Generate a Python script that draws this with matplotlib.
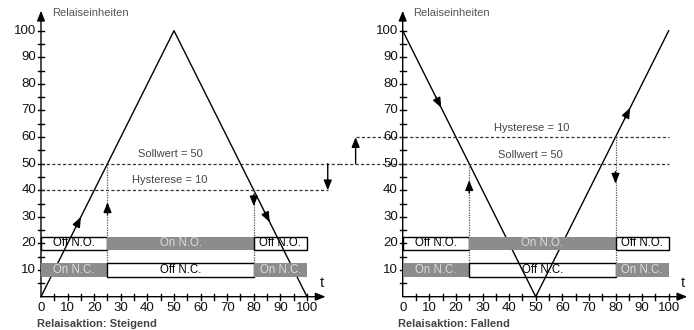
import matplotlib.pyplot as plt
from matplotlib.patches import Rectangle

plt.rcParams['font.family'] = ['Liberation Sans', 'DejaVu Sans']

# signal curves (t, relay units)
rise_t = [0, 50, 100]
rise_y = [0, 100, 0]
fall_t = [0, 50, 100]
fall_y = [100, 0, 100]

setpoint = 50
hysteresis = 10
switch_on = 25
switch_off = 80

# relay state segments: (start, end, state, label)
no_rise = [(0, 25, 'off', 'Off N.O.'), (25, 80, 'on', 'On N.O.'), (80, 100, 'off', 'Off N.O.')]
nc_rise = [(0, 25, 'on', 'On N.C.'), (25, 80, 'off', 'Off N.C.'), (80, 100, 'on', 'On N.C.')]
no_fall = [(0, 25, 'off', 'Off N.O.'), (25, 80, 'on', 'On N.O.'), (80, 100, 'off', 'Off N.O.')]
nc_fall = [(0, 25, 'on', 'On N.C.'), (25, 80, 'off', 'Off N.C.'), (80, 100, 'on', 'On N.C.')]

x_labels = list(range(0, 101, 10))
y_labels = list(range(10, 101, 10))

W, H = 694, 330
S = 2.66  # px per unit
GRAY = '#8c8c8c'
TXT = '#444444'

fig = plt.figure(figsize=(W / 100, H / 100), dpi=100)


def make_ax(x0_px, xmin, xmax):
    y0_px = 296.7  # pixel row of y=0 (from top)
    ymin, ymax = -12.2, 111.5
    left = x0_px + xmin * S
    width = (xmax - xmin) * S
    bottom = H - (y0_px - ymin * S)
    height = (ymax - ymin) * S
    ax = fig.add_axes([left / W, bottom / H, width / W, height / H])
    ax.set_xlim(xmin, xmax)
    ax.set_ylim(ymin, ymax)
    ax.axis('off')
    return ax


def head(ax, tip, back, lw=1.0):
    ax.annotate('', xy=tip, xytext=back,
                arrowprops=dict(arrowstyle='-|>,head_length=0.6,head_width=0.24',
                                color='black', lw=lw, shrinkA=0, shrinkB=0))


def frame(ax):
    # axes with arrows
    head(ax, (0, 107.5), (0, 0))
    head(ax, (107, 0), (0, 0))
    for v in range(5, 105, 5):
        ax.plot([v, v], [-1.1, 1.1], color='black', lw=1.0)
        ax.plot([-1.1, 1.1], [v, v], color='black', lw=1.0)
    for v in x_labels:
        ax.text(v, -4.2, str(v), ha='center', va='center', fontsize=9.5, color='#111111')
    for v in y_labels:
        ax.text(-1.8, v, str(v), ha='right', va='center', fontsize=9.5, color='#111111')
    ax.text(4, 106.5, 'Relaiseinheiten', fontsize=8, color='#555555', va='center')
    ax.text(105.5, 5, 't', fontsize=11, color='#222222', ha='center', va='center')


def bars(ax, segs, yc):
    for a, b, state, label in segs:
        if state == 'on':
            ax.add_patch(Rectangle((a, yc - 2.5), b - a, 5, facecolor=GRAY,
                                   edgecolor='none', zorder=3))
            ax.text((a + b) / 2, yc, label, ha='center', va='center',
                    fontsize=8.3, color='#dddddd', zorder=4)
        else:
            ax.add_patch(Rectangle((a, yc - 2.5), b - a, 5, facecolor='none',
                                   edgecolor='black', lw=1.0, zorder=3))
            ax.text((a + b) / 2, yc, label, ha='center', va='center',
                    fontsize=8.3, color='black', zorder=4)


dash = dict(color='#333333', lw=0.9, linestyle=(0, (2.5, 1.8)))
dot = dict(color='#555555', lw=0.9, linestyle=(0, (1, 1)))

# ---- left: rising ----
axl = make_ax(41, -15.4, 112)
frame(axl)
axl.plot(rise_t, rise_y, color='black', lw=1.0, zorder=2)
head(axl, (15, 30), (13, 26))
head(axl, (86, 28), (84, 32))
axl.plot([0, 112], [setpoint, setpoint], clip_on=False, **dash)
axl.plot([0, 107.8], [setpoint - hysteresis] * 2, **dash)
head(axl, (107.8, setpoint - hysteresis), (107.8, setpoint))
axl.text(48.5, 53.8, 'Sollwert = 50', ha='center', va='center', fontsize=8, color=TXT)
axl.text(48.5, 44, 'Hysterese = 10', ha='center', va='center', fontsize=8, color=TXT)
axl.plot([switch_on] * 2, [12.5, setpoint], **dot)
head(axl, (switch_on, 35.5), (switch_on, 31))
axl.plot([switch_off] * 2, [12.5, setpoint - hysteresis], **dot)
head(axl, (switch_off, 34), (switch_off, 38.5))
bars(axl, no_rise, 20)
bars(axl, nc_rise, 10)
axl.text(-1.6, -10.3, 'Relaisaktion: Steigend', fontsize=8, fontweight='bold',
         color=TXT, va='center')

# ---- right: falling ----
axr = make_ax(402.7, -24, 110)
frame(axr)
axr.plot(fall_t, fall_y, color='black', lw=1.0, zorder=2)
head(axr, (14.5, 71), (12.5, 75))
head(axr, (85.5, 71), (83.5, 67))
axr.plot([-23.9, 100], [setpoint, setpoint], **dash)
axr.plot([-17.7, 100], [setpoint + hysteresis] * 2, **dash)
head(axr, (-17.7, setpoint + hysteresis), (-17.7, setpoint))
axr.text(48.6, 63.5, 'Hysterese = 10', ha='center', va='center', fontsize=8, color=TXT)
axr.text(48, 53.3, 'Sollwert = 50', ha='center', va='center', fontsize=8, color=TXT)
axr.plot([switch_on] * 2, [12.5, setpoint], **dot)
head(axr, (switch_on, 43.8), (switch_on, 39))
axr.plot([switch_off] * 2, [12.5, setpoint + hysteresis], **dot)
head(axr, (switch_off, 42.5), (switch_off, 47))
bars(axr, no_fall, 20)
bars(axr, nc_fall, 10)
axr.text(-1.6, -10.3, 'Relaisaktion: Fallend', fontsize=8, fontweight='bold',
         color=TXT, va='center')

fig.savefig('out.png', dpi=100)
